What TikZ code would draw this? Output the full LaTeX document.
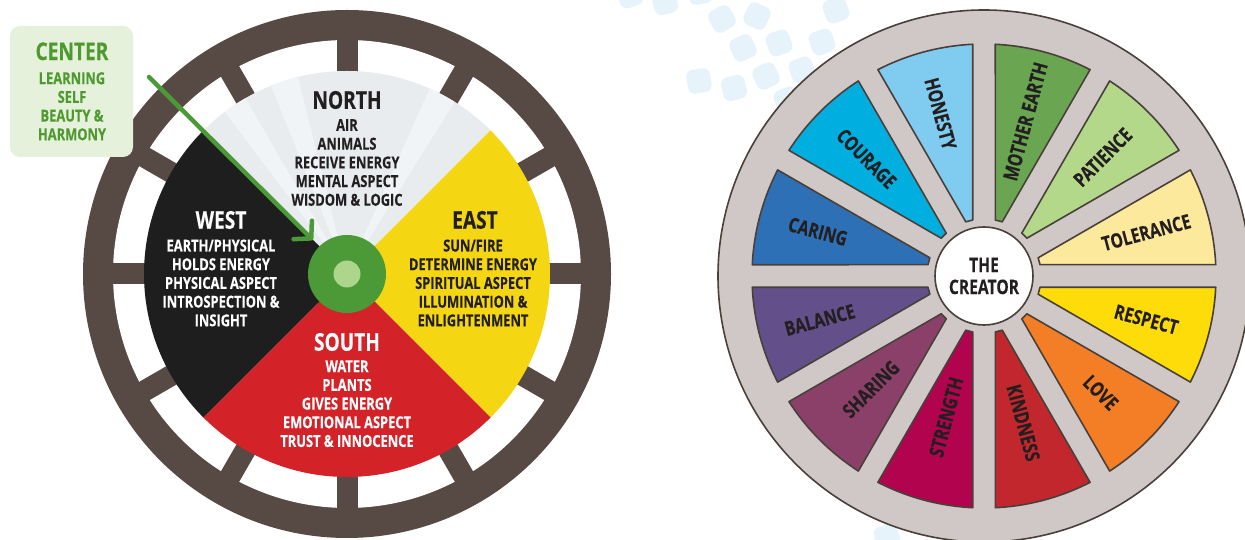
\documentclass[tikz,border=0pt]{standalone}
\usepackage{fontspec}
\setmainfont{Open Sans}[FakeStretch=0.78, BoldFeatures={FakeBold=0.25}]
\usetikzlibrary{calc,arrows.meta}
\definecolor{ringbrown}{HTML}{574A44}
\definecolor{northc}{HTML}{E8ECEF}
\definecolor{northray}{HTML}{F1F4F6}
\definecolor{eastc}{HTML}{F4D712}
\definecolor{southc}{HTML}{D42229}
\definecolor{westc}{HTML}{1E1E1E}
\definecolor{hubgreen}{HTML}{4B9A37}
\definecolor{hublight}{HTML}{ADD68C}
\definecolor{boxfill}{HTML}{E5F1DA}
\definecolor{boxtext}{HTML}{4E9A31}
\definecolor{ink}{HTML}{231F20}
\definecolor{dotblue}{HTML}{E6F3FB}
\definecolor{wheelgray}{HTML}{D0C8C6}
\definecolor{outline}{HTML}{4A403A}
\definecolor{honesty}{HTML}{80CCF0}
\definecolor{mother}{HTML}{6AA651}
\definecolor{patience}{HTML}{B3D88A}
\definecolor{tolerance}{HTML}{FDE99B}
\definecolor{respect}{HTML}{FEDC0A}
\definecolor{love}{HTML}{F47E25}
\definecolor{kindness}{HTML}{C1272D}
\definecolor{strength}{HTML}{B1034E}
\definecolor{sharing}{HTML}{8B406A}
\definecolor{balance}{HTML}{634F8A}
\definecolor{caring}{HTML}{2E70B6}
\definecolor{courage}{HTML}{00AFE0}
\begin{document}
\begin{tikzpicture}[x=1pt,y=1pt]
\tikzset{
  head/.style={font=\fontsize{24.5}{26}\selectfont\bfseries, inner sep=0},
  body/.style={font=\fontsize{16.5}{18.7}\selectfont\bfseries, align=center, inner sep=0},
  seglab/.style={font=\fontsize{20}{21}\selectfont\bfseries, text=ink, inner sep=0},
  seg/.style={draw=outline, line width=1.6, line join=round},
  blob/.style={fill=dotblue, rounded corners=7},
  spoke/.style={draw=ringbrown, line width=21},
}
\useasboundingbox (0,0) rectangle (1245,540);
\clip (0,0) rectangle (1245,540);
\fill[white] (0,0) rectangle (1245,540);

% background blobs
\foreach \x/\y/\r in {630/545/20, 665/538/15, 700/548/10, 722/521/30, 757/524/-25,
  836/530/20, 743/492/25, 779/497/20, 822/498/20, 699/459/10, 734/452/15,
  766/464/25, 802/470/20, 787/440/20, 887/3/20}{
  \fill[blob, rotate around={\r:(\x,\y)}] (\x-12,\y-12) rectangle (\x+12,\y+12);
}

% ===== left wheel =====
\coordinate (C1) at (347,266);
\fill[ringbrown] (C1) circle[radius=264];
\fill[white] (C1) circle[radius=234];
\foreach \s in {0,30,...,330}{
  \draw[spoke] (C1) -- ($(C1)+(\s:245)$);
}
\fill[northc] (C1) -- ++(45:203) arc[start angle=45,end angle=135,radius=203] -- cycle;
\foreach \ra/\rb in {58/66, 104/112, 120/127}{
  \fill[northray] (C1) -- ++(\ra:203) arc[start angle=\ra,end angle=\rb,radius=203] -- cycle;
}
\fill[eastc] (C1) -- ++(-45:203) arc[start angle=-45,end angle=45,radius=203] -- cycle;
\fill[southc] (C1) -- ++(225:203) arc[start angle=225,end angle=315,radius=203] -- cycle;
\fill[westc] (C1) -- ++(135:203) arc[start angle=135,end angle=225,radius=203] -- cycle;

\node[circle, fill=hubgreen, minimum size=78, inner sep=0] (hub) at (C1) {};
\node[circle, fill=hublight, minimum size=27, inner sep=0] (hubdot) at (C1) {};

\node[head, text=ink] (northh) at (347,440) {NORTH};
\node[body, text=ink] (northb) at (347,377.5) {AIR\\ANIMALS\\RECEIVE ENERGY\\MENTAL ASPECT\\WISDOM \& LOGIC};
\node[head, text=white] (westh) at (221,320) {WEST};
\node[body, text=white] (westb) at (221,257) {EARTH/PHYSICAL\\HOLDS ENERGY\\PHYSICAL ASPECT\\INTROSPECTION \&\\INSIGHT};
\node[head, text=ink] (easth) at (475,320) {EAST};
\node[body, text=ink] (eastb) at (473,257) {SUN/FIRE\\DETERMINE ENERGY\\SPIRITUAL ASPECT\\ILLUMINATION \&\\ENLIGHTENMENT};
\node[head, text=white] (southh) at (347,198) {SOUTH};
\node[body, text=white] (southb) at (347,136.3) {WATER\\PLANTS\\GIVES ENERGY\\EMOTIONAL ASPECT\\TRUST \& INNOCENCE};

% center box
\fill[boxfill, rounded corners=10] (10,383) rectangle (133,514);
\node[head, text=boxtext] (centerh) at (72,488.7) {CENTER};
\node[body, text=boxtext] (centerb) at (72,433.7) {LEARNING\\SELF\\BEAUTY \&\\HARMONY};

% arrow
\coordinate (arrowstart) at (149,463);
\draw[hubgreen, line width=4.5, line cap=round, shorten >=9,
  -{Straight Barb[length=12,width=26,line cap=round,line join=round]}] (arrowstart) -- (hub);

% ===== right wheel =====
\coordinate (C2) at (984,264);
\draw[outline, line width=1.6, fill=wheelgray] (C2) circle[radius=266];
\def\Rs{232}
\def\w{11.3}
\def\dR{231.72}
\def\del{2.79}
\def\dz{56}
\foreach \a/\col/\lab/\rot/\rad in {
  0/tolerance/TOLERANCE/15/168,
  30/patience/PATIENCE/45/168,
  60/mother/MOTHER EARTH/75/160,
  90/honesty/HONESTY/-75/168,
  120/courage/COURAGE/-45/166,
  150/caring/CARING/-15/172,
  180/balance/BALANCE/15/170,
  210/sharing/SHARING/45/160,
  240/strength/STRENGTH/75/146,
  270/kindness/KINDNESS/-75/152,
  300/love/LOVE/-45/165,
  330/respect/RESPECT/-15/168}{
  \pgfmathsetmacro\b{\a+30}
  \pgfmathsetmacro\m{\a+15}
  \draw[seg, fill=\col] ($(C2)+(\a:\dz)+(\a+90:\w)$) -- ($(C2)+(\a:\dR)+(\a+90:\w)$)
    arc[start angle=\a+\del, end angle=\b-\del, radius=\Rs]
    -- ($(C2)+(\b:\dz)+(\b-90:\w)$) -- cycle;
  \node[seglab, rotate=\rot] (lab\a) at ($(C2)+(\m:\rad)$) {\lab};
}
\node[circle, draw=outline, line width=1.6, fill=white, minimum size=98, inner sep=0,
  align=center, text=ink, font=\fontsize{20}{22}\selectfont\bfseries] (creator) at (C2) {THE\\CREATOR};
\end{tikzpicture}
\end{document}
